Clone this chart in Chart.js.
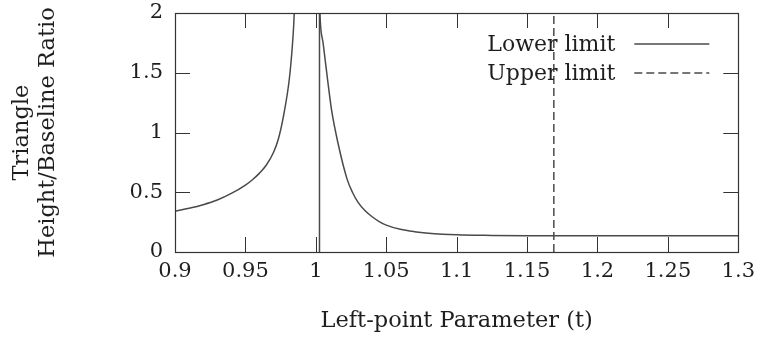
<!DOCTYPE html>
<html>
<head>
<meta charset="utf-8">
<script src="https://cdn.jsdelivr.net/npm/chart.js@4"></script>
<style>
html, body { margin: 0; padding: 0; background: #fff; }
</style>
</head>
<body>
<canvas id="chart" width="762" height="342"></canvas>
<script>
// values
const lowerLeftT     = [0.9, 0.91, 0.92, 0.93, 0.94, 0.95, 0.955, 0.96, 0.965, 0.97, 0.9735, 0.9774, 0.9812, 0.9833, 0.9843, 0.985];
const lowerLeftRatio = [0.341, 0.366, 0.396, 0.435, 0.49, 0.56, 0.605, 0.66, 0.73, 0.835, 0.95, 1.16, 1.45, 1.72, 1.9, 2.1];
const lowerRightT     = [1.0027, 1.0029, 1.0052, 1.0081, 1.0112, 1.0158, 1.0222, 1.026, 1.03, 1.035, 1.04, 1.045, 1.05, 1.06, 1.07, 1.08, 1.09, 1.1, 1.125, 1.15, 1.175, 1.2, 1.25, 1.3];
const lowerRightRatio = [2.1, 2.0, 1.746, 1.466, 1.187, 0.908, 0.61, 0.50, 0.415, 0.345, 0.295, 0.255, 0.225, 0.19, 0.17, 0.157, 0.149, 0.144, 0.139, 0.136, 0.135, 0.135, 0.136, 0.137];
const jumpT     = [1.0026, 1.0026];
const jumpRatio = [0, 2];
const upperT     = [1.169, 1.169];
const upperRatio = [0, 2];
const xTickLabels = ['0.9', '0.95', '1', '1.05', '1.1', '1.15', '1.2', '1.25', '1.3'];
const yTickLabels = ['0', '0.5', '1', '1.5', '2'];

const FONT = '"DejaVu Serif", "Liberation Serif", serif';
const LINE = '#4a4a4a';
const TEXT = '#1e1e1e';

function toPoints(xs, ys) {
    return xs.map((x, i) => ({ x: x, y: ys[i] }));
}

// gnuplot style box with inward ticks on all four sides
const boxTicks = {
    id: 'boxTicks',
    afterDatasetsDraw(chart) {
        const { ctx, chartArea: a, scales } = chart;
        const len = 15;
        ctx.save();
        ctx.strokeStyle = '#333';
        ctx.lineWidth = 1;
        ctx.beginPath();
        scales.x.ticks.forEach(t => {
            const px = Math.round(scales.x.getPixelForValue(t.value)) + 0.5;
            ctx.moveTo(px, a.bottom); ctx.lineTo(px, a.bottom - len);
            ctx.moveTo(px, a.top); ctx.lineTo(px, a.top + len);
        });
        scales.y.ticks.forEach(t => {
            const py = Math.round(scales.y.getPixelForValue(t.value)) + 0.5;
            ctx.moveTo(a.left, py); ctx.lineTo(a.left + len, py);
            ctx.moveTo(a.right, py); ctx.lineTo(a.right - len, py);
        });
        ctx.stroke();
        ctx.lineWidth = 1.2;
        ctx.strokeRect(Math.round(a.left) + 0.5, Math.round(a.top) + 0.5,
            Math.round(a.right - a.left), Math.round(a.bottom - a.top));
        ctx.restore();
    }
};

// key in the top right corner: text on the left, line sample on the right
const keyBox = {
    id: 'keyBox',
    afterDatasetsDraw(chart) {
        const { ctx, chartArea: a } = chart;
        let row = 0;
        ctx.save();
        ctx.font = '22px ' + FONT;
        ctx.textAlign = 'right';
        ctx.textBaseline = 'middle';
        chart.data.datasets.forEach(ds => {
            if (!ds.label) return;
            const y = a.top + 31 + row * 29;
            ctx.fillStyle = TEXT;
            ctx.fillText(ds.label, a.right - 123, y + 1);
            ctx.strokeStyle = ds.borderColor;
            ctx.lineWidth = ds.borderWidth;
            ctx.setLineDash(ds.borderDash || []);
            ctx.beginPath();
            ctx.moveTo(a.right - 104, y);
            ctx.lineTo(a.right - 29, y);
            ctx.stroke();
            row++;
        });
        ctx.restore();
    }
};

const tickFont = { family: FONT, size: 21 };

new Chart(document.getElementById('chart'), {
    type: 'line',
    data: {
        datasets: [
            { label: 'Lower limit', data: toPoints(lowerLeftT, lowerLeftRatio), borderColor: LINE, borderWidth: 1.5, pointRadius: 0, cubicInterpolationMode: 'monotone' },
            { label: '', data: toPoints(lowerRightT, lowerRightRatio), borderColor: LINE, borderWidth: 1.5, pointRadius: 0, cubicInterpolationMode: 'monotone' },
            { label: '', data: toPoints(jumpT, jumpRatio), borderColor: LINE, borderWidth: 1.5, pointRadius: 0 },
            { label: 'Upper limit', data: toPoints(upperT, upperRatio), borderColor: LINE, borderWidth: 1.5, pointRadius: 0, borderDash: [8, 4] }
        ]
    },
    options: {
        responsive: false,
        animation: false,
        layout: { padding: { top: 0, right: 21, left: 0, bottom: 0 } },
        plugins: {
            legend: { display: false },
            tooltip: { enabled: false }
        },
        scales: {
            x: {
                type: 'linear',
                min: 0.9,
                max: 1.3,
                afterBuildTicks: s => { s.ticks = xTickLabels.map(v => ({ value: parseFloat(v) })); },
                afterFit: s => { s.height = 90; },
                grid: { display: false, drawTicks: false },
                border: { display: false },
                ticks: {
                    callback: (v, i) => xTickLabels[i],
                    autoSkip: false,
                    maxRotation: 0,
                    padding: 7,
                    color: TEXT,
                    font: tickFont
                },
                title: {
                    display: true,
                    text: 'Left-point Parameter (t)',
                    color: TEXT,
                    font: { family: FONT, size: 22.5 },
                    padding: { top: 0, bottom: 7 }
                }
            },
            y: {
                min: 0,
                max: 2,
                afterBuildTicks: s => { s.ticks = yTickLabels.map(v => ({ value: parseFloat(v) })); },
                afterFit: s => { s.width = 175; s.paddingTop = 13; },
                grid: { display: false, drawTicks: false },
                border: { display: false },
                ticks: {
                    callback: (v, i) => yTickLabels[i],
                    padding: 12,
                    color: TEXT,
                    font: tickFont
                },
                title: {
                    display: true,
                    text: ['Triangle', 'Height/Baseline Ratio'],
                    color: TEXT,
                    font: { family: FONT, size: 22.5, lineHeight: 1.17 },
                    padding: { top: 8.5, bottom: 0 }
                }
            }
        }
    },
    plugins: [boxTicks, keyBox]
});
</script>
</body>
</html>
